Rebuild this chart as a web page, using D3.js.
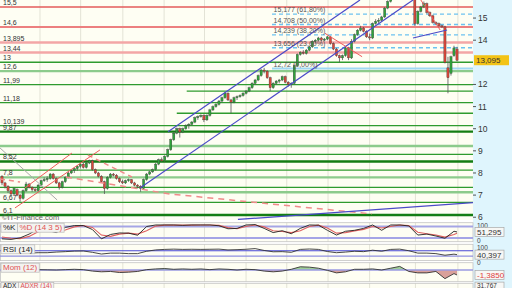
<!DOCTYPE html>
<html><head><meta charset="utf-8">
<script src="https://cdn.jsdelivr.net/npm/d3@7"></script>
<style>body{margin:0;background:#fff}svg{display:block}text{font-family:"Liberation Sans",Arial,sans-serif}</style>
</head><body><svg id="c" width="512" height="288"></svg>
<script>
// ---- DATA ----
// candles: [open, high, low, close]
const candles = [
[7.85,7.9,7.45,7.55],[7.55,7.6,7.3,7.4],[7.4,7.45,7.1,7.2],[7.2,7.25,6.95,7.05],[7.05,7.35,7.0,7.3],
[7.25,7.3,6.95,7.0],[7.0,7.05,6.7,6.85],[6.85,7.25,6.8,7.2],[7.2,7.6,7.15,7.5],[7.5,7.55,7.3,7.35],
[7.35,7.4,7.15,7.25],[7.25,7.35,7.15,7.2],[7.2,7.5,7.15,7.45],[7.45,7.7,7.4,7.65],[7.65,7.8,7.6,7.7],
[7.7,7.85,7.6,7.75],[7.75,8.0,7.7,7.95],[7.95,8.0,7.7,7.75],[7.75,7.8,7.5,7.55],[7.55,7.6,7.25,7.35],
[7.35,7.65,7.3,7.6],[7.6,7.85,7.55,7.8],[7.8,8.05,7.75,8.0],[8.0,8.15,7.95,8.1],[8.1,8.25,8.0,8.2],
[8.2,8.35,8.1,8.3],[8.3,8.45,8.2,8.4],[8.4,8.45,8.2,8.25],[8.25,8.5,8.2,8.45],[8.45,8.6,8.4,8.55],
[8.55,8.6,8.1,8.15],[8.15,8.2,7.95,8.0],[8.0,8.05,7.8,7.85],[7.85,7.9,7.55,7.6],[7.6,7.65,7.05,7.3],
[7.3,7.85,7.25,7.8],[7.8,8.0,7.75,7.95],[7.95,8.0,7.85,7.9],[7.9,7.95,7.7,7.75],[7.75,7.8,7.55,7.6],
[7.6,7.7,7.5,7.55],[7.55,7.7,7.5,7.65],[7.65,7.75,7.6,7.7],[7.7,7.72,7.5,7.55],[7.55,7.6,7.4,7.45],
[7.45,7.5,7.3,7.4],[7.4,7.45,7.15,7.3],[7.3,7.75,7.25,7.7],[7.7,8.0,7.65,7.95],[7.95,8.1,7.9,8.05],
[8.05,8.2,8.0,8.15],[8.15,8.45,8.1,8.4],[8.4,8.65,8.35,8.6],[8.6,8.7,8.5,8.55],[8.55,8.8,8.5,8.75],
[8.75,9.1,8.7,9.05],[9.05,9.55,9.0,9.5],[9.5,9.85,9.45,9.8],[9.8,10.05,9.75,10.0],[10.0,10.05,9.6,9.85],
[9.85,10.05,9.8,10.0],[10.0,10.2,9.95,10.15],[10.15,10.25,10.0,10.2],[10.2,10.35,10.15,10.3],[10.3,10.55,10.25,10.5],
[10.5,10.6,10.4,10.55],[10.55,10.65,10.5,10.6],[10.6,10.65,10.3,10.4],[10.4,10.65,10.35,10.6],[10.6,10.9,10.55,10.85],
[10.85,11.05,10.8,11.0],[11.0,11.15,10.95,11.1],[11.1,11.3,11.05,11.25],[11.25,11.45,11.2,11.4],[11.4,11.65,11.35,11.6],
[11.6,11.65,11.25,11.3],[11.3,11.35,10.7,11.2],[11.2,11.45,11.15,11.4],[11.4,11.5,11.3,11.45],[11.45,11.55,11.4,11.5],
[11.5,11.65,11.45,11.6],[11.6,11.75,11.55,11.7],[11.7,11.9,11.65,11.85],[11.85,12.1,11.8,12.05],[12.05,12.25,12.0,12.2],
[12.2,12.45,12.15,12.4],[12.4,12.7,12.35,12.65],[12.65,12.75,12.5,12.6],[12.6,12.65,12.25,12.3],[12.3,12.35,11.7,11.85],
[11.85,12.1,11.8,12.05],[12.05,12.2,12.0,12.15],[12.15,12.25,12.05,12.2],[12.2,12.4,12.15,12.35],[12.35,12.4,12.05,12.1],
[12.1,12.15,11.9,12.0],[12.0,12.1,11.85,12.05],[12.05,12.9,12.0,12.85],[12.85,13.4,12.8,13.35],[13.35,13.5,13.3,13.45],
[13.45,13.55,13.35,13.4],[13.4,13.6,13.35,13.55],[13.55,13.75,13.5,13.7],[13.7,14.0,13.65,13.95],[13.95,14.05,13.85,14.0],
[14.0,14.15,13.95,14.1],[14.1,14.15,13.95,14.0],[14.0,14.1,13.95,14.05],[14.05,14.2,14.0,14.15],[14.15,14.2,13.8,13.85],
[13.85,13.9,13.55,13.6],[13.6,13.65,13.25,13.3],[13.3,13.35,13.0,13.2],[13.2,13.35,13.1,13.3],[13.3,13.7,13.25,13.65],
[13.65,13.7,13.1,13.2],[13.2,14.05,13.15,13.95],[13.95,14.3,13.9,14.25],[14.25,14.5,14.2,14.45],[14.45,14.65,14.4,14.55],
[14.55,14.6,14.35,14.4],[14.4,14.45,14.1,14.15],[14.15,14.3,14.0,14.1],[14.1,14.8,14.05,14.75],[14.75,14.95,14.7,14.85],
[14.85,15.0,14.75,14.9],[14.9,15.1,14.85,15.05],[15.05,15.5,15.0,15.45],[15.45,15.8,15.4,15.75],[15.75,15.95,15.7,15.9],
[15.9,16.15,15.85,16.1],[16.1,16.35,16.05,16.3],[16.3,16.55,16.25,16.5],[16.5,16.6,16.35,16.4],[16.4,16.7,16.35,16.6],
[16.6,16.65,16.25,16.3],[16.3,16.35,15.95,16.0],[16.0,16.05,14.65,14.75],[14.75,15.35,14.7,15.3],[15.3,15.55,15.25,15.5],
[15.5,15.75,15.45,15.65],[15.65,15.7,15.2,15.25],[15.25,15.3,15.05,15.1],[15.1,15.15,14.75,14.8],[14.8,14.85,14.7,14.75],
[14.75,14.8,14.6,14.65],[14.65,14.7,14.55,14.6],[14.6,14.65,12.95,13.0],[12.75,13.25,11.6,12.3],[12.5,13.3,12.4,13.25],
[13.3,13.75,13.25,13.65],[13.6,13.7,13.05,13.095]
];
const lastPrice = 13.095;
const lastPriceLabel = "13,095";
const monthGridIdx = [12.6, 26.1, 40.1, 53.8, 67.2, 81.0, 94.5, 108.2, 122.0, 137.2, 151.3];
const priceTicks = [15, 14, 12, 11, 10, 9, 8, 7, 6];

const levelValues = [15.5, 14.6, 13.895, 13.44, 13, 12.6, 11.99, 11.70, 11.18, 10.70, 10.139, 9.87, 9.22, 8.84, 8.52, 8.13, 7.8, 7.35, 7.13, 6.67, 6.1];
const levelLabels = ["15,5","14,6","13,895","13,44","13","12,6","11,99","","11,18","","10,139","9,87","","","8,52","","7,8","","","6,67","6,1"];
const levelKinds  = ["r1","r2","r3","r3","g","lg","g","g","g","g","g","dg","lg","g","dg","g","lg","g","lg","g","dg"];
const levelStartIdx = [null,null,null,null,null,null,null,61.3,null,58.0,null,null,null,null,null,null,null,null,null,null,null];

const fibValues = [15.177, 14.708, 14.239, 13.656, 12.72];
const fibLabels = ["15,177 (61,80%)","14,708 (50,00%)","14,239 (38,20%)","13,656 (23,60%)","12,72 (0,00%)"];
const fibStartIdx = 89.6;

// trend lines: [[idx, value], ...]
const channelLow  = [[45.8, 7.32], [136.4, 15.816]];
const channelHigh = [[55.1, 9.865], [118.8, 15.816]];
const blueTriangle = [[136.4, 14.10], [147.7, 14.46]];
const blueBottom  = [[78.3, 5.90], [156.3, 6.66]];
const redLineA    = [[107.2, 14.31], [119.5, 13.254]];
const redTriangle = [[139.0, 15.816], [145.4, 14.46]];
const redChanUp   = [[7.6, 7.32], [23.2, 8.90]];
const redChanLow  = [[4.3, 6.42], [32.5, 9.04]];
const grayLine    = [[-0.66, 9.13], [18.3, 6.78]];
const redDashShort = [[-0.66, 7.73], [6.0, 7.59]];
const redDashDecl  = [[28.5, 8.81], [43.1, 7.82]];
const redDashLong  = [[21.2, 7.82], [55.8, 7.05], [122.8, 6.15]];

// indicators sampled every 3 candles + last candle
const indIdx = [0,3,6,9,12,15,18,21,24,27,30,33,36,39,42,45,48,51,54,57,60,63,66,69,72,75,78,81,84,87,90,93,96,99,102,105,108,111,114,117,120,123,126,129,132,135,138,141,144,147,150,151];
const stochK = [15,12,20,40,68,60,48,75,85,85,64,15,38,46,45,34,80,88,88,88,86,88,88,88,84,68,70,88,90,70,48,58,42,70,88,87,60,35,55,60,70,88,60,88,88,83,35,40,30,18,55,51.295];
const stochD = [25,18,16,28,52,62,55,62,78,85,75,35,28,40,45,40,58,82,87,88,87,87,88,88,86,74,68,80,88,78,58,54,48,58,80,87,72,45,48,57,65,80,72,80,88,85,50,42,35,24,38,45];
const rsi    = [null,null,null,52,55,55,60,63,67,68,58,45,52,52,48,48,66,76,80,82,80,81,80,81,82,76,78,81,86,72,62,63,58,80,83,80,64,55,60,66,63,74,66,80,82,70,52,52,48,36,44,40.397];
const mom    = [null,null,null,null,0.1,0.05,0,0.1,0.2,0.1,-0.3,-0.5,-0.4,-0.7,-0.6,-0.4,0.1,0.3,0.4,0.2,0.3,0.2,0.3,0.1,0.3,0.2,0.0,0.2,0.1,-0.3,-0.5,-0.3,0.2,0.9,0.8,0.5,-0.1,-0.8,-0.5,0.2,0.2,0.3,0.0,0.5,1.0,-0.4,-0.8,-0.8,-0.4,-2.4,-1.0,-1.385];
const stochLast = "51,295", rsiLast = "40,397", momLast = "-1,3850", adxLast = "31,767";

// ---- DRAW ----
const svg = d3.select("#c");
const PR = 473, MAINB = 220;
const x = d3.scaleLinear().domain([0, 151]).range([2, 457]);
const y = d3.scaleLinear().domain([5.875, 15.816]).range([MAINB, 0]);
const ySt = d3.scaleLinear().domain([0, 100]).range([241.7, 222.7]);
const yRsi = d3.scaleLinear().domain([0, 100]).range([260, 246.75]);
const yMom = d3.scaleLinear().domain([-3.25, 2.03]).range([281.7, 262.7]);
const BG = "#fefef3";

svg.append("rect").attr("width",512).attr("height",288).attr("fill","#fff");
svg.append("rect").attr("x",PR).attr("width",512-PR).attr("height",288).attr("fill","#dff5fd");

const defs = svg.append("defs");
defs.append("clipPath").attr("id","mainclip").append("rect").attr("width",PR).attr("height",MAINB);

// panels
const panels = [[0,MAINB],[222.7,241.7],[244.3,260.6],[262.7,281.7],[283.3,300]];
panels.forEach(p=>{
  svg.append("rect").attr("x",0).attr("y",p[0]).attr("width",PR).attr("height",p[1]-p[0]).attr("fill",BG);
});
// vertical grid
monthGridIdx.forEach(g=>{
  panels.forEach(p=>{
    svg.append("line").attr("x1",x(g)).attr("x2",x(g)).attr("y1",p[0]).attr("y2",p[1])
      .attr("stroke","#e3e3d6").attr("stroke-width",1);
  });
});
panels.slice(1).forEach(p=>{
  svg.append("rect").attr("x",0.5).attr("y",p[0]).attr("width",PR-0.5).attr("height",p[1]-p[0])
    .attr("fill","none").attr("stroke","#c4c4c4").attr("stroke-width",0.8);
});

const main = svg.append("g").attr("clip-path","url(#mainclip)");
const kindStyle = {
  r1:{c:"#e35b5b",w:1.5}, r2:{c:"#ec7f7f",w:2}, r3:{c:"#f3a6a6",w:2.5},
  g:{c:"#2f9b2f",w:1.4}, lg:{c:"#8ccb8c",w:2.4}, dg:{c:"#137d13",w:2.4}
};
levelValues.forEach((v,i)=>{
  const s = kindStyle[levelKinds[i]];
  const x1 = levelStartIdx[i]==null ? 0 : x(levelStartIdx[i]);
  main.append("line").attr("x1",x1).attr("x2",PR).attr("y1",y(v)).attr("y2",y(v))
    .attr("stroke",s.c).attr("stroke-width",s.w);
});
// fib lines
fibValues.forEach((v,i)=>{
  const last = i===fibValues.length-1;
  main.append("line").attr("x1",x(fibStartIdx)).attr("x2",PR).attr("y1",y(v)).attr("y2",y(v))
    .attr("stroke", last ? "#9fd8f4" : "#6cc2f0").attr("stroke-width", last?2:1.4)
    .attr("stroke-dasharray", last ? null : "4,3");
});

// candles
const cg = main.append("g");
candles.forEach((d,i)=>{
  const [o,h,l,c] = d;
  const up = c >= o;
  cg.append("line").attr("x1",x(i)).attr("x2",x(i)).attr("y1",y(h)).attr("y2",y(l))
    .attr("stroke","#555").attr("stroke-width",0.8);
  const top = y(Math.max(o,c)), bot = y(Math.min(o,c));
  cg.append("rect").attr("x",x(i)-1.1).attr("y",top).attr("width",2.2).attr("height",Math.max(1,bot-top))
    .attr("fill", up ? "#2fa33a" : "#d8463a").attr("stroke","#3a3a3a").attr("stroke-width",0.35);
});

// trend lines
const ln = d3.line().x(d=>x(d[0])).y(d=>y(d[1]));
function tl(data, color, w, dash){
  main.append("path").attr("d", ln(data)).attr("fill","none").attr("stroke",color).attr("stroke-width",w)
    .attr("stroke-dasharray", dash||null);
}
tl(redDashShort, "#f08a8a", 1.5, "5,4");
tl(redDashDecl, "#f08a8a", 1.5, "5,4");
tl(redDashLong, "#f08a8a", 1.5, "6,5");
tl(grayLine, "#a8a8a8", 1);
tl(redChanUp, "#ef5a5a", 1);
tl(redChanLow, "#ef5a5a", 1);
tl(channelLow, "#4a4ac8", 1.2);
tl(channelHigh, "#4a4ac8", 1.2);
tl(blueBottom, "#4a4ac8", 1.2);
tl(blueTriangle, "#4a4ac8", 1.2);
tl(redLineA, "#ef5a5a", 1);
tl(redTriangle, "#ef5a5a", 1);

// left level labels
levelValues.forEach((v,i)=>{
  if(!levelLabels[i]) return;
  main.append("text").attr("x",3).attr("y",y(v)-2).attr("font-size",7).attr("fill","#333").text(levelLabels[i]);
});
// fib labels
fibValues.forEach((v,i)=>{
  main.append("text").attr("x",x(fibStartIdx)+1.5).attr("y",y(v)-1.8).attr("font-size",7).attr("fill","#555").text(fibLabels[i]);
});
main.append("text").attr("x",2).attr("y",219.6).attr("font-size",7.5).attr("fill","#666").text("\u00A9IT-Finance.com");

// right axis
priceTicks.forEach(t=>{
  svg.append("line").attr("x1",PR).attr("x2",PR+3).attr("y1",y(t)).attr("y2",y(t)).attr("stroke","#555");
  svg.append("text").attr("x",PR+5).attr("y",Math.min(y(t)+3,220)).attr("font-size",8.5).attr("fill","#333").text(t);
});
svg.append("rect").attr("x",PR+1).attr("y",y(lastPrice)-5).attr("width",35).attr("height",10).attr("fill","#f3c316");
svg.append("text").attr("x",PR+3).attr("y",y(lastPrice)+3).attr("font-size",8).attr("fill","#333").text(lastPriceLabel);

// ---- lower panels ----
const pts = (arr) => indIdx.map((ix,i)=>[ix, arr[i]]);
const iline = (ys) => d3.line().defined(d=>d[1]!=null).x(d=>x(d[0])).y(d=>ys(d[1]));
// stochastic
[80,20].forEach(v=>svg.append("line").attr("x1",0).attr("x2",PR).attr("y1",ySt(v)).attr("y2",ySt(v)).attr("stroke","#a5a5e6").attr("stroke-width",2));
svg.append("path").attr("d",iline(ySt)(pts(stochD))).attr("fill","none").attr("stroke","#e06060").attr("stroke-width",1.1);
svg.append("path").attr("d",iline(ySt)(pts(stochK))).attr("fill","none").attr("stroke","#222").attr("stroke-width",0.9);
// rsi
svg.append("line").attr("x1",0).attr("x2",PR).attr("y1",yRsi(70)).attr("y2",yRsi(70)).attr("stroke","#4848d6").attr("stroke-width",1.2);
svg.append("line").attr("x1",0).attr("x2",PR).attr("y1",yRsi(30)).attr("y2",yRsi(30)).attr("stroke","#8f8fe0").attr("stroke-width",1.2);
svg.append("path").attr("d",iline(yRsi)(pts(rsi))).attr("fill","none").attr("stroke","#333").attr("stroke-width",0.9);
// momentum
const z = yMom(0);
defs.append("clipPath").attr("id","momUp").append("rect").attr("x",0).attr("y",262.7).attr("width",PR).attr("height",z-262.7);
defs.append("clipPath").attr("id","momDn").append("rect").attr("x",0).attr("y",z).attr("width",PR).attr("height",281.7-z);
const marea = d3.area().defined(d=>d[1]!=null).x(d=>x(d[0])).y0(z).y1(d=>yMom(d[1]));
svg.append("path").attr("d",marea(pts(mom))).attr("fill","#9fcf98").attr("clip-path","url(#momUp)");
svg.append("path").attr("d",marea(pts(mom))).attr("fill","#d9a09a").attr("clip-path","url(#momDn)");
svg.append("line").attr("x1",0).attr("x2",PR).attr("y1",z).attr("y2",z).attr("stroke","#9a9ae2").attr("stroke-width",1.5);
svg.append("path").attr("d",iline(yMom)(pts(mom))).attr("fill","none").attr("stroke","#333").attr("stroke-width",0.9);

// panel labels
function box(x0,y0,txt,col,fs,h){
  fs = fs||8; h = h||9;
  const g = svg.append("g");
  const r = g.append("rect").attr("x",x0).attr("y",y0).attr("height",h)
    .attr("fill","#f3f3f0").attr("stroke","#b8b8b8").attr("stroke-width",0.7);
  const t = g.append("text").attr("x",x0+2).attr("y",y0+h-1.8).attr("font-size",fs).attr("fill",col).text(txt);
  const w = t.node().getComputedTextLength()+4;
  r.attr("width",w);
  return x0+w;
}
let bx = box(1,223.2,"%K","#222"); box(bx,223.2,"%D (14 3 5)","#e05050");
box(1,244.8,"RSI (14)","#222");
box(1,263.2,"Mom (12)","#e05050");
bx = box(1,282.6,"ADX","#222",6.5,7); box(bx,282.6,"ADXR (14)","#e05050",6.5,7);

// right labels for lower panels
function rtext(yy,txt){
  svg.append("text").attr("x",PR+4).attr("y",yy).attr("font-size",6.5).attr("fill","#444").text(txt);
}
rtext(228.2,"100"); rtext(243.3,"0");
rtext(250.2,"100"); rtext(264.6,"0");
function rbox(cy,txt,col,fs,h){
  fs = fs||8; h = h||9;
  svg.append("rect").attr("x",PR+2).attr("y",cy-h/2).attr("width",29).attr("height",h).attr("fill","#f7f7f5").attr("stroke","#a8a8a8").attr("stroke-width",0.7);
  svg.append("text").attr("x",PR+4).attr("y",cy+fs*0.36).attr("font-size",fs).attr("fill",col).text(txt);
}
rbox(ySt(51.295),stochLast,"#333");
rbox(yRsi(40.397),rsiLast,"#333");
rbox(yMom(-1.385),momLast,"#e04040");
rbox(285.6,adxLast,"#333",6.5,7);
</script></body></html>
